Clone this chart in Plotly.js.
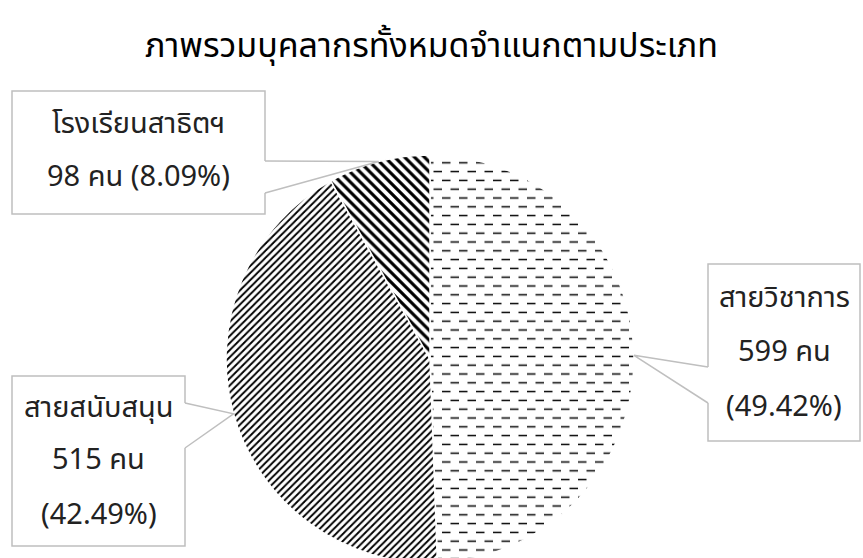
<!DOCTYPE html>
<html><head><meta charset="utf-8">
<script src="https://cdn.plot.ly/plotly-3.0.1.min.js"></script>
<style>html,body{margin:0;padding:0;overflow:hidden;background:#fff}#chart{width:863px;height:563px}</style>
</head><body><div id="chart"></div><script>
// ---- data ----
const categories = ['สายวิชาการ', 'สายสนับสนุน', 'โรงเรียนสาธิตฯ'];
const counts = [599, 515, 98];
const unitLabel = 'คน';
const chartTitle = 'ภาพรวมบุคลากรทั้งหมดจำแนกตามประเภท';

// ---- layout constants (pixels) ----
const W = 863, H = 563;
const CX = 430, CY = 359, R = 204;
const FONT = "Tahoma, 'Noto Sans Thai', 'Leelawadee UI', 'DejaVu Sans', 'Noto Sans', sans-serif";
const BORDER = '#bfbfbf';
const boxes = [
  {l: 708, t: 264, r: 860, b: 441, base: [[708, 367], [708, 403]], lineY: [298, 352, 407]},
  {l: 12, t: 376, r: 185, b: 546, base: [[185, 403], [185, 448]], lineY: [408, 460, 515]},
  {l: 12, t: 91, r: 265, b: 214, base: [[265, 161], [265, 193]], lineY: [124, 177]}
];
const px = x => x / W, py = y => 1 - y / H;

const total = counts.reduce((a, b) => a + b, 0);
const pct = counts.map(v => (v / total * 100).toFixed(2) + '%');

// slice mid-angle tips on circumference (clockwise from 12 o'clock)
let cum = 0;
const tips = counts.map(v => {
  const mid = (cum + v / 2) / total * 2 * Math.PI;
  cum += v;
  return [CX + R * Math.sin(mid), CY - R * Math.cos(mid)];
});

const textLines = categories.map((c, i) => i < 2
  ? [c, `${counts[i]} ${unitLabel}`, `(${pct[i]})`]
  : [c, `${counts[i]} ${unitLabel} (${pct[i]})`]);

const annotations = [];
boxes.forEach((bx, i) => {
  textLines[i].forEach((t, k) => {
    annotations.push({
      xref: 'paper', yref: 'paper',
      x: px((bx.l + bx.r) / 2), y: py(bx.lineY[k]),
      xanchor: 'center', yanchor: 'middle',
      showarrow: false, text: t,
      font: {family: FONT, size: 29, color: '#222'}
    });
  });
});

const shapes = [];
boxes.forEach(bx => shapes.push({
  type: 'rect', xref: 'paper', yref: 'paper', layer: 'above',
  x0: px(bx.l), x1: px(bx.r), y0: py(bx.b), y1: py(bx.t),
  fillcolor: '#fff', line: {color: BORDER, width: 1.5}
}));
boxes.forEach(bx => shapes.push({
  type: 'line', xref: 'paper', yref: 'paper', layer: 'above',
  x0: px(bx.base[0][0]), y0: py(bx.base[0][1]), x1: px(bx.base[1][0]), y1: py(bx.base[1][1]),
  line: {color: '#fff', width: 3}
}));
boxes.forEach((bx, i) => shapes.push({
  type: 'path', xref: 'paper', yref: 'paper', layer: 'above',
  path: `M${px(bx.base[0][0])},${py(bx.base[0][1])}L${px(tips[i][0])},${py(tips[i][1])}L${px(bx.base[1][0])},${py(bx.base[1][1])}`,
  line: {color: BORDER, width: 1.5}
}));

const data = [{
  type: 'pie',
  values: counts,
  labels: categories,
  sort: false,
  direction: 'clockwise',
  rotation: 0,
  textinfo: 'none',
  showlegend: false,
  domain: {x: [(CX - R) / W, (CX + R) / W], y: [py(CY + R), py(CY - R)]},
  marker: {
    colors: ['#fff', '#fff', '#fff'],
    line: {color: '#fff', width: 1.5},
    pattern: {
      shape: ['-', '/', '\\'],
      fgcolor: '#000', bgcolor: '#fff',
      size: [9, 5, 7],
      solidity: [0.2, 0.38, 0.45],
      fillmode: 'replace'
    }
  }
}];

const layout = {
  width: W, height: H,
  margin: {l: 0, r: 0, t: 0, b: 0},
  paper_bgcolor: '#fff',
  title: {
    text: chartTitle,
    font: {family: FONT, size: 34, color: '#000'},
    x: 0.5, xanchor: 'center', xref: 'paper',
    y: py(45), yanchor: 'middle', yref: 'paper'
  },
  annotations: annotations,
  shapes: shapes
};

Plotly.newPlot('chart', data, layout, {staticPlot: true}).then(gd => {
  // dashed horizontal texture for the first slice
  const surf = gd.querySelectorAll('g.slice path.surface')[0];
  if (!surf) return;
  const fill = surf.style.fill || surf.getAttribute('fill') || '';
  const m = /url\(["']?#([^"')]+)["']?\)/.exec(fill);
  if (!m) return;
  const pat = document.getElementById(m[1]);
  if (!pat) return;
  const NS = 'http://www.w3.org/2000/svg';
  const tw = 17, th = 17.6;
  pat.setAttribute('width', tw);
  pat.setAttribute('height', th);
  pat.setAttribute('patternUnits', 'userSpaceOnUse');
  while (pat.firstChild) pat.removeChild(pat.firstChild);
  const rect = document.createElementNS(NS, 'rect');
  rect.setAttribute('width', tw); rect.setAttribute('height', th);
  rect.setAttribute('fill', '#fff');
  pat.appendChild(rect);
  const p = document.createElementNS(NS, 'path');
  p.setAttribute('d', `M0,4.4H8.5M8.5,13.2H17`);
  p.setAttribute('stroke', '#000');
  p.setAttribute('stroke-width', '1.7');
  pat.appendChild(p);
});
</script></body></html>
